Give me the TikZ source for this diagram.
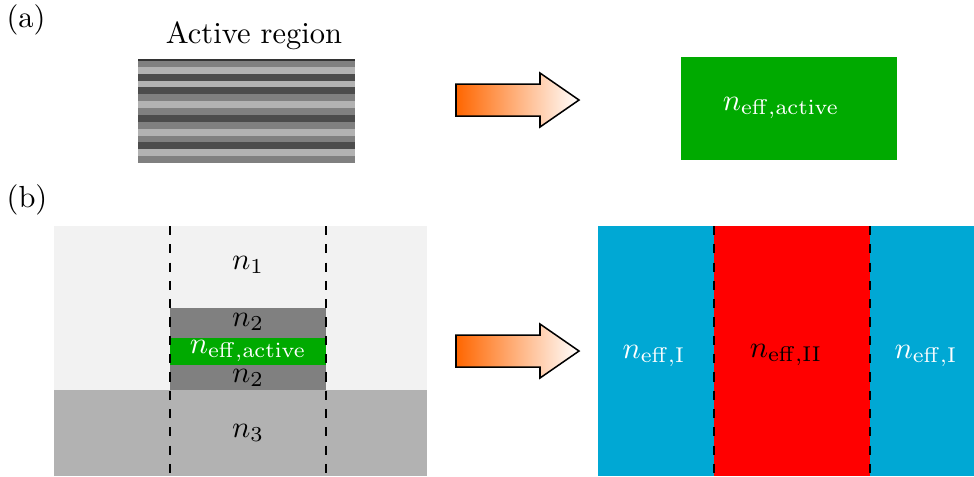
\documentclass[tikz,border=0pt]{standalone}
\usepackage{tikz}
\usetikzlibrary{positioning,calc}
\definecolor{activegreen}{RGB}{0,170,0}
\definecolor{cladblue}{RGB}{0,168,212}
\definecolor{upperclad}{RGB}{242,242,242}
\definecolor{arroworange}{RGB}{255,102,0}

% block arrow pointing right, shaded orange to white
\newcommand{\blockarrow}[2]{%
  \shadedraw[left color=arroworange,right color=white,draw=black,line width=0.5pt]
    (#1,#2-15) -- ++(84,0) -- ++(0,-11) -- ++(39,27) -- ++(-39,27) -- ++(0,-11) -- ++(-84,0) -- cycle;}

\begin{document}
\begin{tikzpicture}[x=0.328pt,y=-0.328pt,
 lbl/.style={inner sep=0pt,font=\normalsize},
 wlbl/.style={lbl,text=white},
 cut/.style={black,dashed,semithick}]
\useasboundingbox (0,0) rectangle (974,476);

% (a) layered active region
\node[lbl] (taga) at (26,20) {(a)};
\foreach \c [count=\i from 0] in {50,30,70,30,70,50,30,50,70,50,30,50,70,30,50}
  \fill[black!\c] (138,{60+6.867*\i}) rectangle (355,{60+6.867*(\i+1)});
\draw[black!80,line width=0.4pt] (138,60) -- (355,60);
\node[lbl,anchor=base] (actlbl) at (254,43) {Active region};

\blockarrow{456}{99}

\fill[activegreen] (681,57) rectangle (897,160);
\node[wlbl] (neffa) at (781,108) {$n_{\mathrm{eff,active}}$};

% (b) slab waveguide cross-section
\node[lbl] (tagb) at (27,200) {(b)};
\fill[upperclad] (54,226) rectangle (427,390);
\fill[black!30] (54,390) rectangle (427,476);
\fill[black!50] (170,308) rectangle (326,390);
\fill[activegreen] (170,338) rectangle (326,365);
\draw[cut] (170,226) -- (170,476);
\draw[cut] (326,226) -- (326,476);
\node[lbl] (n1) at (248,265) {$n_1$};
\node[lbl] (n2t) at (248,322) {$n_2$};
\node[wlbl] (neffb) at (248,351) {$n_{\mathrm{eff,active}}$};
\node[lbl] (n2b) at (248,378) {$n_2$};
\node[lbl] (n3) at (248,433) {$n_3$};

\blockarrow{456}{350}

% effective index regions
\fill[cladblue] (598,226) rectangle (714,476);
\fill[red] (714,226) rectangle (870,476);
\fill[cladblue] (870,226) rectangle (974,476);
\draw[cut] (714,226) -- (714,476);
\draw[cut] (870,226) -- (870,476);
\node[wlbl] (nI) at (654,356) {$n_{\mathrm{eff,I}}$};
\node[lbl] (nII) at (786,355) {$n_{\mathrm{eff,II}}$};
\node[wlbl] (nIr) at (926,356) {$n_{\mathrm{eff,I}}$};
\end{tikzpicture}
\end{document}
